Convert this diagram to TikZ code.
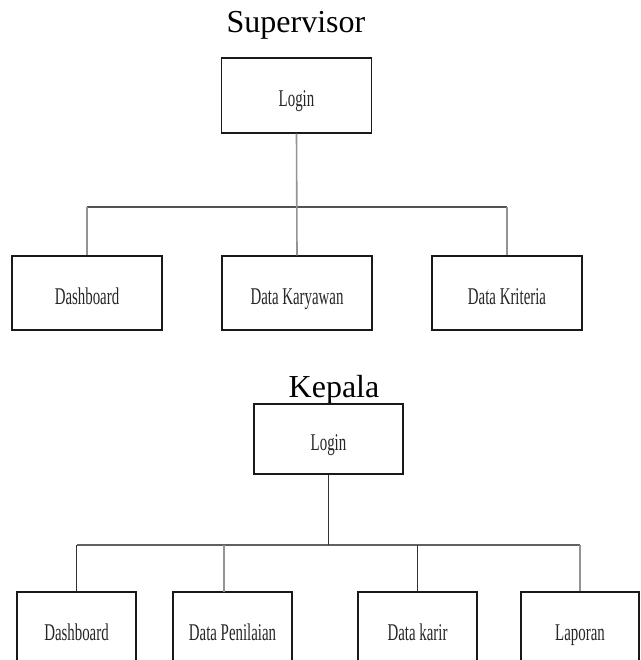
\documentclass[tikz,border=0pt]{standalone}
\usepackage{fontspec}
\setmainfont{Liberation Serif}
\newfontfamily\narrowfont[FakeStretch=0.62]{Liberation Serif}

\tikzset{
    menubox/.style={draw=black!90, line width=1.1pt, minimum width=150pt, minimum height=74pt,
        inner sep=0pt, text height=22pt, text depth=0pt, text=black!85,
        font=\narrowfont\fontsize{24}{28}\selectfont},
    smallbox/.style={menubox, minimum width=119pt},
    roletitle/.style={anchor=base, inner sep=0pt, font=\fontsize{32}{36}\selectfont},
    toplink/.style={draw=black!42, line width=1.6pt},
    topbar/.style={draw=black!68, line width=1.4pt},
    sublink/.style={draw=black!80, line width=1.1pt},
    subbar/.style={draw=black!62, line width=1.6pt}
}

\begin{document}
\begin{tikzpicture}[x=1pt, y=-1pt]
    \useasboundingbox (0,0) rectangle (640,660);

    % Supervisor menu
    \node[roletitle] (supTitle) at (296,33) {Supervisor};
    \node[menubox, minimum height=75pt] (supLogin) at (296.5,95.5) {Login};

    \node[menubox] (supDash) at (87,293) {Dashboard};
    \node[menubox] (supKary) at (297,293) {Data Karyawan};
    \node[menubox] (supKrit) at (507,293) {Data Kriteria};

    \coordinate (supBarL) at (87,207);
    \coordinate (supBarR) at (507,207);
    \draw[topbar] (supBarL) -- (supBarR);
    \draw[toplink] (supLogin.south) -- (supKary.north);
    \draw[toplink] (supDash.north) -- (supDash.north |- supBarL);
    \draw[toplink] (supKrit.north) -- (supKrit.north |- supBarL);

    % Kepala menu
    \node[roletitle] (kepTitle) at (334,397.5) {Kepala};
    \node[menubox, minimum width=149pt, minimum height=70pt] (kepLogin) at (328.5,439) {Login};

    \node[smallbox] (kepDash) at (76.5,629) {Dashboard};
    \node[smallbox] (kepNilai) at (232.5,629) {Data Penilaian};
    \node[smallbox] (kepKarir) at (417.5,629) {Data karir};
    \node[smallbox, minimum width=118pt] (kepLapor) at (580,629) {Laporan};

    \coordinate (kepBarL) at (76.5,545);
    \coordinate (kepBarR) at (580,545);
    \coordinate (kepNilaiTop) at (224,592);
    \draw[subbar] (kepBarL) -- (kepBarR);
    \draw[sublink] (kepLogin.south) -- (kepLogin.south |- kepBarL);
    \draw[sublink] (kepDash.north) -- (kepDash.north |- kepBarL);
    \draw[toplink, line width=1.2pt] (kepNilaiTop) -- (kepNilaiTop |- kepBarL);
    \draw[sublink] (kepKarir.north) -- (kepKarir.north |- kepBarL);
    \draw[toplink, line width=1.2pt] (kepLapor.north) -- (kepLapor.north |- kepBarL);
\end{tikzpicture}
\end{document}
